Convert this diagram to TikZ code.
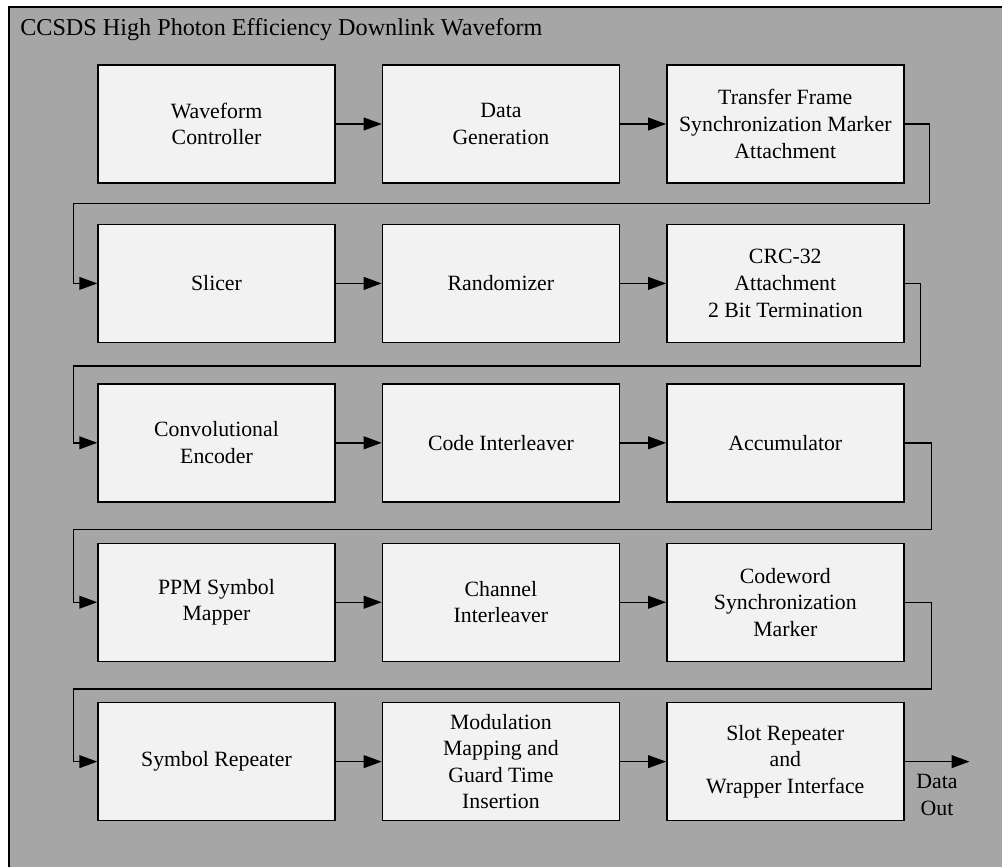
\documentclass[tikz,border=0pt]{standalone}
\usepackage{fontspec}
\setmainfont{Liberation Serif}
\newfontfamily\diagfont{Liberation Serif}
\usetikzlibrary{positioning,arrows.meta}
\definecolor{panelgray}{RGB}{166,166,166}
\definecolor{boxfill}{RGB}{242,242,242}

\begin{document}
\begin{tikzpicture}[
        node distance=1.0cm and 1.15cm,
        font=\diagfont\fontsize{15.5}{18.9}\selectfont,
        block/.style={draw, line width=1pt, fill=boxfill, align=center, minimum width=5.925cm, minimum height=2.95cm, inner sep=2pt},
        arrow/.style={-{Triangle[length=0.45cm,width=0.32cm]}, line width=1pt},
    ]
    \useasboundingbox (0,0) rectangle (25.05,-21.675);

    % Panel
    \draw[fill=panelgray, line width=1.8pt] (0.225,-0.175) rectangle (25.6,-22.3);
    \node[anchor=base west, inner sep=0, font=\diagfont\fontsize{17.2}{20}\selectfont] (title) at (0.5,-0.875) {CCSDS High Photon Efficiency Downlink Waveform};

    % Row 1
    \node[block] (wfctrl) at (5.4125,-3.1) {Waveform\\Controller};
    \node[block, right=of wfctrl] (datagen) {Data\\Generation};
    \node[block, right=of datagen] (tfsm) {Transfer Frame\\Synchronization Marker\\Attachment};

    % Row 2
    \node[block, below=of wfctrl] (slicer) {Slicer};
    \node[block, right=of slicer] (rand) {Randomizer};
    \node[block, right=of rand] (crc) {CRC-32\\Attachment\\2 Bit Termination};

    % Row 3
    \node[block, below=of slicer] (convenc) {Convolutional\\Encoder};
    \node[block, right=of convenc] (codeint) {Code Interleaver};
    \node[block, right=of codeint] (accum) {Accumulator};

    % Row 4
    \node[block, below=of convenc] (ppm) {PPM Symbol\\Mapper};
    \node[block, right=of ppm] (chanint) {Channel\\Interleaver};
    \node[block, right=of chanint] (cwsm) {Codeword\\Synchronization\\Marker};

    % Row 5
    \node[block, below=of ppm] (symrep) {Symbol Repeater};
    \node[block, right=of symrep] (modmap) {Modulation\\Mapping and\\Guard Time\\Insertion};
    \node[block, right=of modmap] (slotrep) {Slot Repeater\\and\\Wrapper Interface};

    % Lines
    \draw[arrow] (wfctrl) -- (datagen);
    \draw[arrow] (datagen) -- (tfsm);
    \draw[arrow] (tfsm.east) -- ++(0.625,0) |- ([yshift=0.5cm]slicer.north) -| ([xshift=-0.6cm]slicer.west) -- (slicer.west);

    \draw[arrow] (slicer) -- (rand);
    \draw[arrow] (rand) -- (crc);
    \draw[arrow] (crc.east) -- ++(0.4,0) |- ([yshift=0.425cm]convenc.north) -| ([xshift=-0.6cm]convenc.west) -- (convenc.west);

    \draw[arrow] (convenc) -- (codeint);
    \draw[arrow] (codeint) -- (accum);
    \draw[arrow] (accum.east) -- ++(0.675,0) |- ([yshift=0.325cm]ppm.north) -| ([xshift=-0.6cm]ppm.west) -- (ppm.west);

    \draw[arrow] (ppm) -- (chanint);
    \draw[arrow] (chanint) -- (cwsm);
    \draw[arrow] (cwsm.east) -- ++(0.675,0) |- ([yshift=0.325cm]symrep.north) -| ([xshift=-0.6cm]symrep.west) -- (symrep.west);

    \draw[arrow] (symrep) -- (modmap);
    \draw[arrow] (modmap) -- (slotrep);
    \coordinate[right=1.625cm of slotrep.east] (dataout);
    \draw[arrow] (slotrep.east) -- node[below, align=center, inner sep=0.3cm] {Data\\Out} (dataout);

\end{tikzpicture}
\end{document}
